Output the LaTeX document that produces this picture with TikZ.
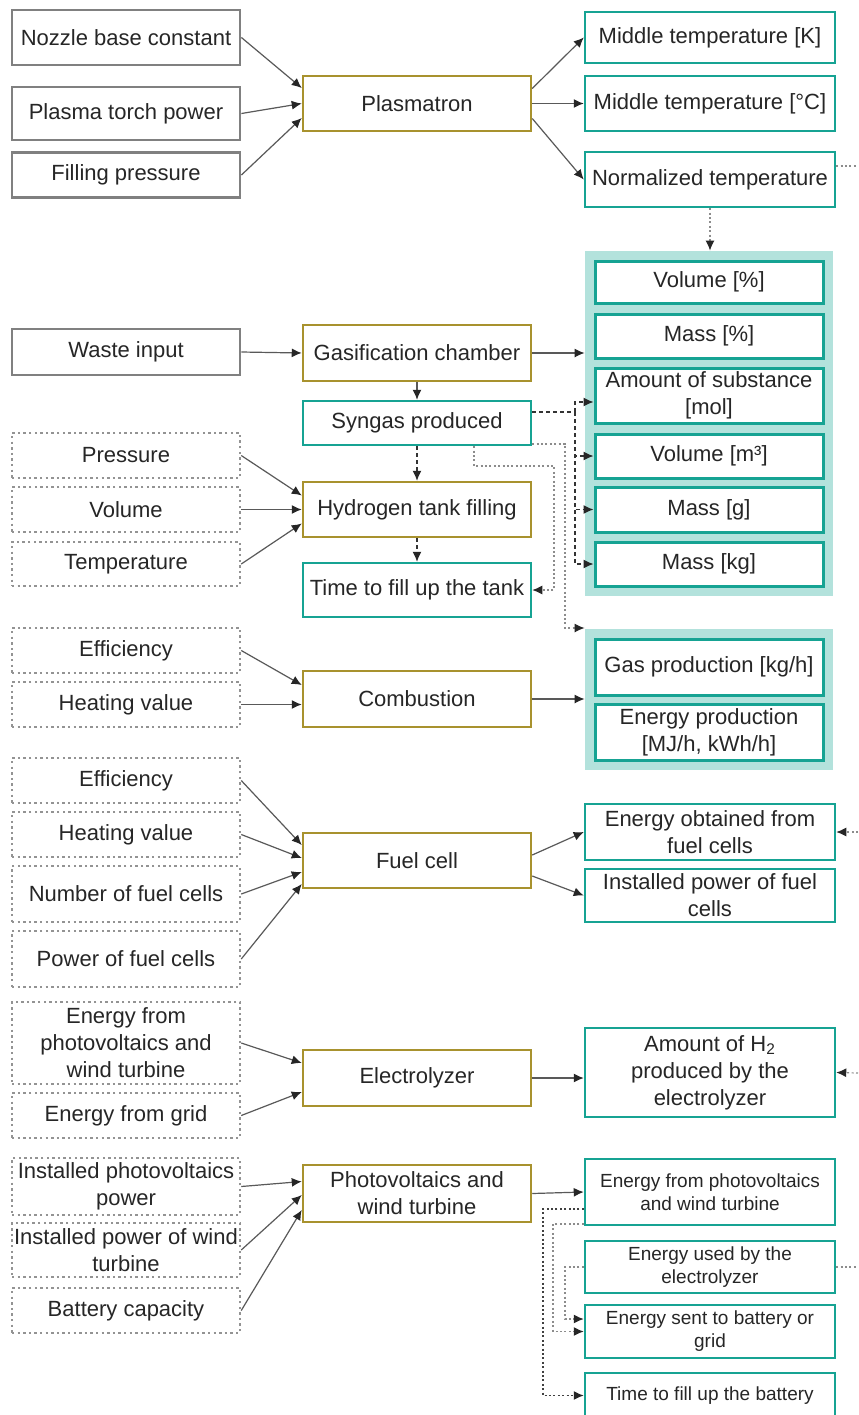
\documentclass[tikz,border=0pt]{standalone}
\usepackage{fontspec}
\setmainfont{Liberation Sans}
\usetikzlibrary{arrows.meta}
\definecolor{cgray}{HTML}{808080}
\definecolor{cgold}{HTML}{A8922E}
\definecolor{cteal}{HTML}{16A393}
\definecolor{cgrp}{HTML}{B3E2DC}
\definecolor{ctext}{HTML}{262626}
\tikzset{
  fbox/.style={draw, fill=white, align=center, inner sep=1pt, text=ctext,
               font=\fontsize{11}{13.5}\selectfont, line width=1.25pt},
  hpx/.style={minimum height=#1*0.5pt},
  nin/.style={fbox, draw=cgray, minimum width=114pt, line width=1.4pt},
  nopt/.style={fbox, draw=cgray!85, minimum width=114pt, dash pattern=on 1.2pt off 1.6pt},
  nproc/.style={fbox, draw=cgold, minimum width=114pt},
  nout/.style={fbox, draw=cteal, minimum width=125pt},
  nsub/.style={fbox, draw=cteal, minimum width=114pt, line width=1.5pt},
  nsmall/.style={nout, font=\fontsize{9.5}{11.5}\selectfont},
  grp/.style={fill=cgrp, inner sep=0pt, minimum width=124pt},
  flow/.style={-{Latex[length=5pt,width=4.5pt,color=black!85]}, line width=0.6pt, draw=black!65},
  flowd/.style={flow, dash pattern=on 2pt off 1.5pt, draw=black!80},
  flowt/.style={flow, dash pattern=on 1pt off 1.2pt, draw=black!45},
  linet/.style={line width=0.6pt, dash pattern=on 1pt off 1.2pt, draw=black!45},
}
\begin{document}
\begin{tikzpicture}[x=0.5pt, y=-0.5pt]
  \fill[white] (0,0) rectangle (858,1415);
  \useasboundingbox (0,0) rectangle (858,1415);

  % left column
  \node[nin, hpx=55] (nozzle) at (126,37.5) {Nozzle base constant};
  \node[nin, hpx=53] (torch) at (126,113.5) {Plasma torch power};
  \node[nin, hpx=45] (fillp) at (126,175) {Filling pressure};
  \node[nin, hpx=46] (waste) at (126,352) {Waste input};
  \node[nopt, hpx=45] (pres) at (126,455.5) {Pressure};
  \node[nopt, hpx=45] (vol) at (126,509.5) {Volume};
  \node[nopt, hpx=44] (temp) at (126,564) {Temperature};
  \node[nopt, hpx=45] (effc) at (126,650.5) {Efficiency};
  \node[nopt, hpx=45] (heatc) at (126,704.5) {Heating value};
  \node[nopt, hpx=45] (efff) at (126,780.5) {Efficiency};
  \node[nopt, hpx=45] (heatf) at (126,834.5) {Heating value};
  \node[nopt, hpx=56] (numfc) at (126,894) {Number of fuel cells};
  \node[nopt, hpx=56] (powfc) at (126,959) {Power of fuel cells};
  \node[nopt, hpx=82] (epvin) at (126,1043) {Energy from\\photovoltaics and\\wind turbine};
  \node[nopt, hpx=45] (egrid) at (126,1115.5) {Energy from grid};
  \node[nopt, hpx=57] (instpv) at (126,1186.5) {Installed photovoltaics\\power};
  \node[nopt, hpx=54] (instwt) at (126,1250) {Installed power of wind\\turbine};
  \node[nopt, hpx=45] (batt) at (126,1310.5) {Battery capacity};

  % middle column
  \node[nproc, hpx=55] (plasm) at (417,103.5) {Plasmatron};
  \node[nproc, hpx=56] (gasif) at (417,353) {Gasification chamber};
  \node[nout, minimum width=114pt, hpx=44] (syngas) at (417,423) {Syngas produced};
  \node[nproc, hpx=55] (h2fill) at (417,509.5) {Hydrogen tank filling};
  \node[nout, minimum width=114pt, hpx=54] (tfill) at (417,590) {Time to fill up the tank};
  \node[nproc, hpx=56] (comb) at (417,699) {Combustion};
  \node[nproc, hpx=55] (fcell) at (417,860.5) {Fuel cell};
  \node[nproc, hpx=56] (elec) at (417,1078) {Electrolyzer};
  \node[nproc, hpx=57] (pvwt) at (417,1193.5) {Photovoltaics and\\wind turbine};

  % right column
  \node[nout, hpx=51] (tk) at (710,37.5) {Middle temperature [K]};
  \node[nout, hpx=55] (tc) at (710,103.5) {Middle temperature [°C]};
  \node[nout, hpx=55] (tnorm) at (710,179.5) {Normalized temperature};
  \node[grp, hpx=345] (grpa) at (709,423.5) {};
  \node[grp, hpx=141] (grpb) at (709,699.5) {};
  \node[nsub, hpx=42] (vpct) at (709,282) {Volume [\%]};
  \node[nsub, hpx=44] (mpct) at (709,336) {Mass [\%]};
  \node[nsub, hpx=55] (amount) at (709,395.5) {Amount of substance\\{[mol]}};
  \node[nsub, hpx=44] (vm3) at (709,456) {Volume [m³]};
  \node[nsub, hpx=45] (mg) at (709,509.5) {Mass [g]};
  \node[nsub, hpx=44] (mkg) at (709,564) {Mass [kg]};
  \node[nsub, hpx=56] (gasprod) at (709,667) {Gas production [kg/h]};
  \node[nsub, hpx=56] (enprod) at (709,732) {Energy production\\{[MJ/h, kWh/h]}};
  \node[nout, hpx=56] (eobt) at (710,832) {Energy obtained from\\fuel cells};
  \node[nout, hpx=53] (instfc) at (710,895.5) {Installed power of fuel\\cells};
  \node[nout, hpx=89] (amh2) at (710,1072.5) {Amount of H\textsubscript{2}\\produced by the\\electrolyzer};
  \node[nsmall, hpx=66] (epvout) at (710,1192) {Energy from photovoltaics\\and wind turbine};
  \node[nsmall, hpx=52] (eused) at (710,1267) {Energy used by the\\electrolyzer};
  \node[nsmall, hpx=53] (esent) at (710,1331.5) {Energy sent to battery or\\grid};
  \node[nsmall, hpx=45] (tbatt) at (710,1395.5) {Time to fill up the battery};

  \coordinate (offa) at (858,166);
  \coordinate (offb) at (858,832);
  \coordinate (offc) at (858,1073);
  \coordinate (offd) at (858,1267);
  \coordinate (ja) at (575,412);
  \coordinate (jb) at (565,628);
  \coordinate (jc) at (554,466);
  \coordinate (ka) at (543,1395.5);
  \coordinate (kb) at (553,1331.5);
  \coordinate (kc) at (565,1319);

  \draw[flow] (nozzle.east) -- ([yshift=7.75pt]plasm.west);
  \draw[flow] (torch.east) -- (plasm.west);
  \draw[flow] (fillp.east) -- ([yshift=-7.25pt]plasm.west);
  \draw[flow] ([yshift=7.5pt]plasm.east) -- (tk.west);
  \draw[flow] (plasm.east) -- (tc.west);
  \draw[flow] ([yshift=-7.5pt]plasm.east) -- (tnorm.west);
  \draw[linet] ([yshift=6.75pt]tnorm.east) -- (offa);
  \draw[flowt] (tnorm.south) -- (tnorm.south |- grpa.north);

  \draw[flow] (waste.east) -- (gasif.west);
  \draw[flow] (gasif.east) -- (gasif.east -| grpa.west);
  \draw[flow] (gasif.south) -- (syngas.north);
  \draw[flowd] (syngas.south) -- (h2fill.north);
  \draw[flowd] (h2fill.south) -- (tfill.north);
  \draw[flow] (pres.east) -- ([yshift=7pt]h2fill.west);
  \draw[flow] (vol.east) -- (h2fill.west);
  \draw[flow] (temp.east) -- ([yshift=-7pt]h2fill.west);
  \draw[flowd, -] ([yshift=5.5pt]syngas.east) -- (ja);
  \draw[flowd] (ja) |- ([yshift=-3.25pt]amount.west);
  \draw[flowd] (ja) |- (vm3.west);
  \draw[flowd] (ja) |- (mg.west);
  \draw[flowd] (ja) |- (mkg.west);
  \draw[flowt] ([yshift=-10.5pt]syngas.east) -| (jb) -- (jb -| grpb.west);
  \draw[flowt] ([xshift=28.5pt]syngas.south) |- (jc) |- (tfill.east);

  \draw[flow] (effc.east) -- ([yshift=7pt]comb.west);
  \draw[flow] (heatc.east) -- (heatc.east -| comb.west);
  \draw[flow] (comb.east) -- (comb.east -| grpb.west);

  \draw[flow] (efff.east) -- ([yshift=7.75pt]fcell.west);
  \draw[flow] (heatf.east) -- ([yshift=1.25pt]fcell.west);
  \draw[flow] (numfc.east) -- ([yshift=-5.75pt]fcell.west);
  \draw[flow] (powfc.east) -- ([yshift=-11.75pt]fcell.west);
  \draw[flow] ([yshift=2.75pt]fcell.east) -- (eobt.west);
  \draw[flow] ([yshift=-7.75pt]fcell.east) -- (instfc.west);
  \draw[flowt] (offb) -- (eobt.east);

  \draw[flow] (epvin.east) -- ([yshift=7.5pt]elec.west);
  \draw[flow] (egrid.east) -- ([yshift=-7pt]elec.west);
  \draw[flow] (elec.east) -- (elec.east -| amh2.west);
  \draw[flowt] (offc) -- (amh2.east);

  \draw[flow] (instpv.east) -- ([yshift=6pt]pvwt.west);
  \draw[flow] (instwt.east) -- ([yshift=-0.75pt]pvwt.west);
  \draw[flow] (batt.east) -- ([yshift=-8.25pt]pvwt.west);
  \draw[flow] (pvwt.east) -- (epvout.west);
  \draw[flowt, draw=black!75] ([yshift=-8.5pt]epvout.west) -| (ka) -- (tbatt.west);
  \draw[flowt] ([yshift=-16pt]epvout.west) -| (kb) -- (esent.west);
  \draw[flowt] (eused.west) -| (kc) -- (kc -| esent.west);
  \draw[linet] (eused.east) -- (offd);
\end{tikzpicture}
\end{document}
